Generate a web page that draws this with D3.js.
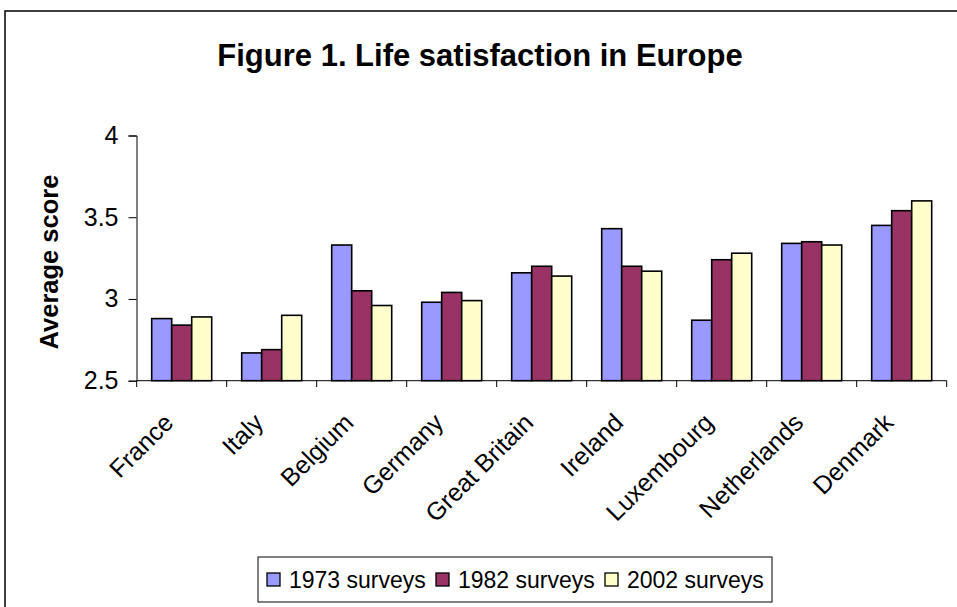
<!DOCTYPE html>
<html><head><meta charset="utf-8">
<script src="https://cdn.jsdelivr.net/npm/d3@7"></script>
<style>body{margin:0;background:#fff}svg{display:block;font-family:"Liberation Sans",Arial,sans-serif}</style>
</head><body><div id="chart"></div>
<script>
const categories = ["France","Italy","Belgium","Germany","Great Britain","Ireland","Luxembourg","Netherlands","Denmark"];
const seriesNames = ["1973 surveys","1982 surveys","2002 surveys"];
const values1973 = [2.88, 2.67, 3.33, 2.98, 3.16, 3.43, 2.87, 3.34, 3.45];
const values1982 = [2.84, 2.69, 3.05, 3.04, 3.20, 3.20, 3.24, 3.35, 3.54];
const values2002 = [2.89, 2.90, 2.96, 2.99, 3.14, 3.17, 3.28, 3.33, 3.60];
const yTicks = [2.5, 3, 3.5, 4];
const colors = ["#9999FF","#993366","#FFFFCC"];
const title = "Figure 1. Life satisfaction in Europe";
const yTitle = "Average score";

const W = 957, H = 607;
const svg = d3.select("#chart").append("svg").attr("width", W).attr("height", H);

// outer chart border (clipped by window at right/bottom)
svg.append("rect").attr("x", 5).attr("y", 11).attr("width", 1000).attr("height", 1000)
  .attr("fill", "none").attr("stroke", "#000").attr("stroke-width", 1.5);

const x0 = d3.scaleBand().domain(categories).range([136.7, 946.7]).paddingInner(1/3).paddingOuter(1/6);
const x1 = d3.scaleBand().domain(seriesNames).range([0, x0.bandwidth()]);
const y = d3.scaleLinear().domain([2.5, 4]).range([380.7, 135.5]);

svg.append("text").attr("x", 480).attr("y", 66).attr("text-anchor", "middle")
  .attr("font-size", 31).attr("font-weight", "bold").text(title);

// y axis
const yAxis = svg.append("g").attr("transform", "translate(136.5,0)")
  .call(d3.axisLeft(y).tickValues(yTicks).tickFormat(d3.format("")).tickSize(8).tickPadding(10));
yAxis.selectAll("path,line").attr("stroke", "#000");
yAxis.selectAll("text").attr("font-size", 25).attr("fill", "#000").attr("font-family", "Liberation Sans, Arial, sans-serif");

svg.append("text").attr("transform", "translate(58,262) rotate(-90)")
  .attr("text-anchor", "middle").attr("font-size", 25.5).attr("font-weight", "bold").text(yTitle);

const data = categories.map((c, i) => ({cat: c, vals: [values1973[i], values1982[i], values2002[i]]}));
const groups = svg.append("g").selectAll("g").data(data).join("g")
  .attr("transform", d => `translate(${x0(d.cat)},0)`);
groups.selectAll("rect").data(d => d.vals.map((v, j) => ({v, s: seriesNames[j], j})))
  .join("rect")
  .attr("x", d => x1(d.s)).attr("width", x1.bandwidth())
  .attr("y", d => y(d.v)).attr("height", d => y(2.5) - y(d.v))
  .attr("fill", d => colors[d.j]).attr("stroke", "#000").attr("stroke-width", 1.6);

// x axis line and boundary ticks
const xAxisG = svg.append("g");
xAxisG.append("line").attr("x1", 136.7).attr("x2", 946.7).attr("y1", 380.7).attr("y2", 380.7)
  .attr("stroke", "#000").attr("stroke-width", 1);
const bounds = categories.map(c => x0(c) - x0.step() * x0.paddingInner() / 2).concat([946.7]);
xAxisG.selectAll("line.t").data(bounds).join("line").attr("class", "t")
  .attr("x1", d => d).attr("x2", d => d).attr("y1", 380.7).attr("y2", 387)
  .attr("stroke", "#000");

svg.append("g").selectAll("text").data(categories).join("text")
  .attr("transform", c => `translate(${x0(c) + x0.bandwidth() / 2 - 13},418) rotate(-45)`)
  .attr("text-anchor", "end").attr("dy", "0.35em").attr("font-size", 25).text(c => c);

// legend
const lg = svg.append("g");
lg.append("rect").attr("x", 258).attr("y", 557).attr("width", 514).attr("height", 45)
  .attr("fill", "#fff").attr("stroke", "#000").attr("stroke-width", 1);
const legX = [267, 436, 605];
seriesNames.forEach((s, j) => {
  lg.append("rect").attr("x", legX[j]).attr("y", 573).attr("width", 13).attr("height", 13)
    .attr("fill", colors[j]).attr("stroke", "#000").attr("stroke-width", 1.3);
  lg.append("text").attr("x", legX[j] + 22).attr("y", 588).attr("font-size", 23).text(s);
});
</script></body></html>
